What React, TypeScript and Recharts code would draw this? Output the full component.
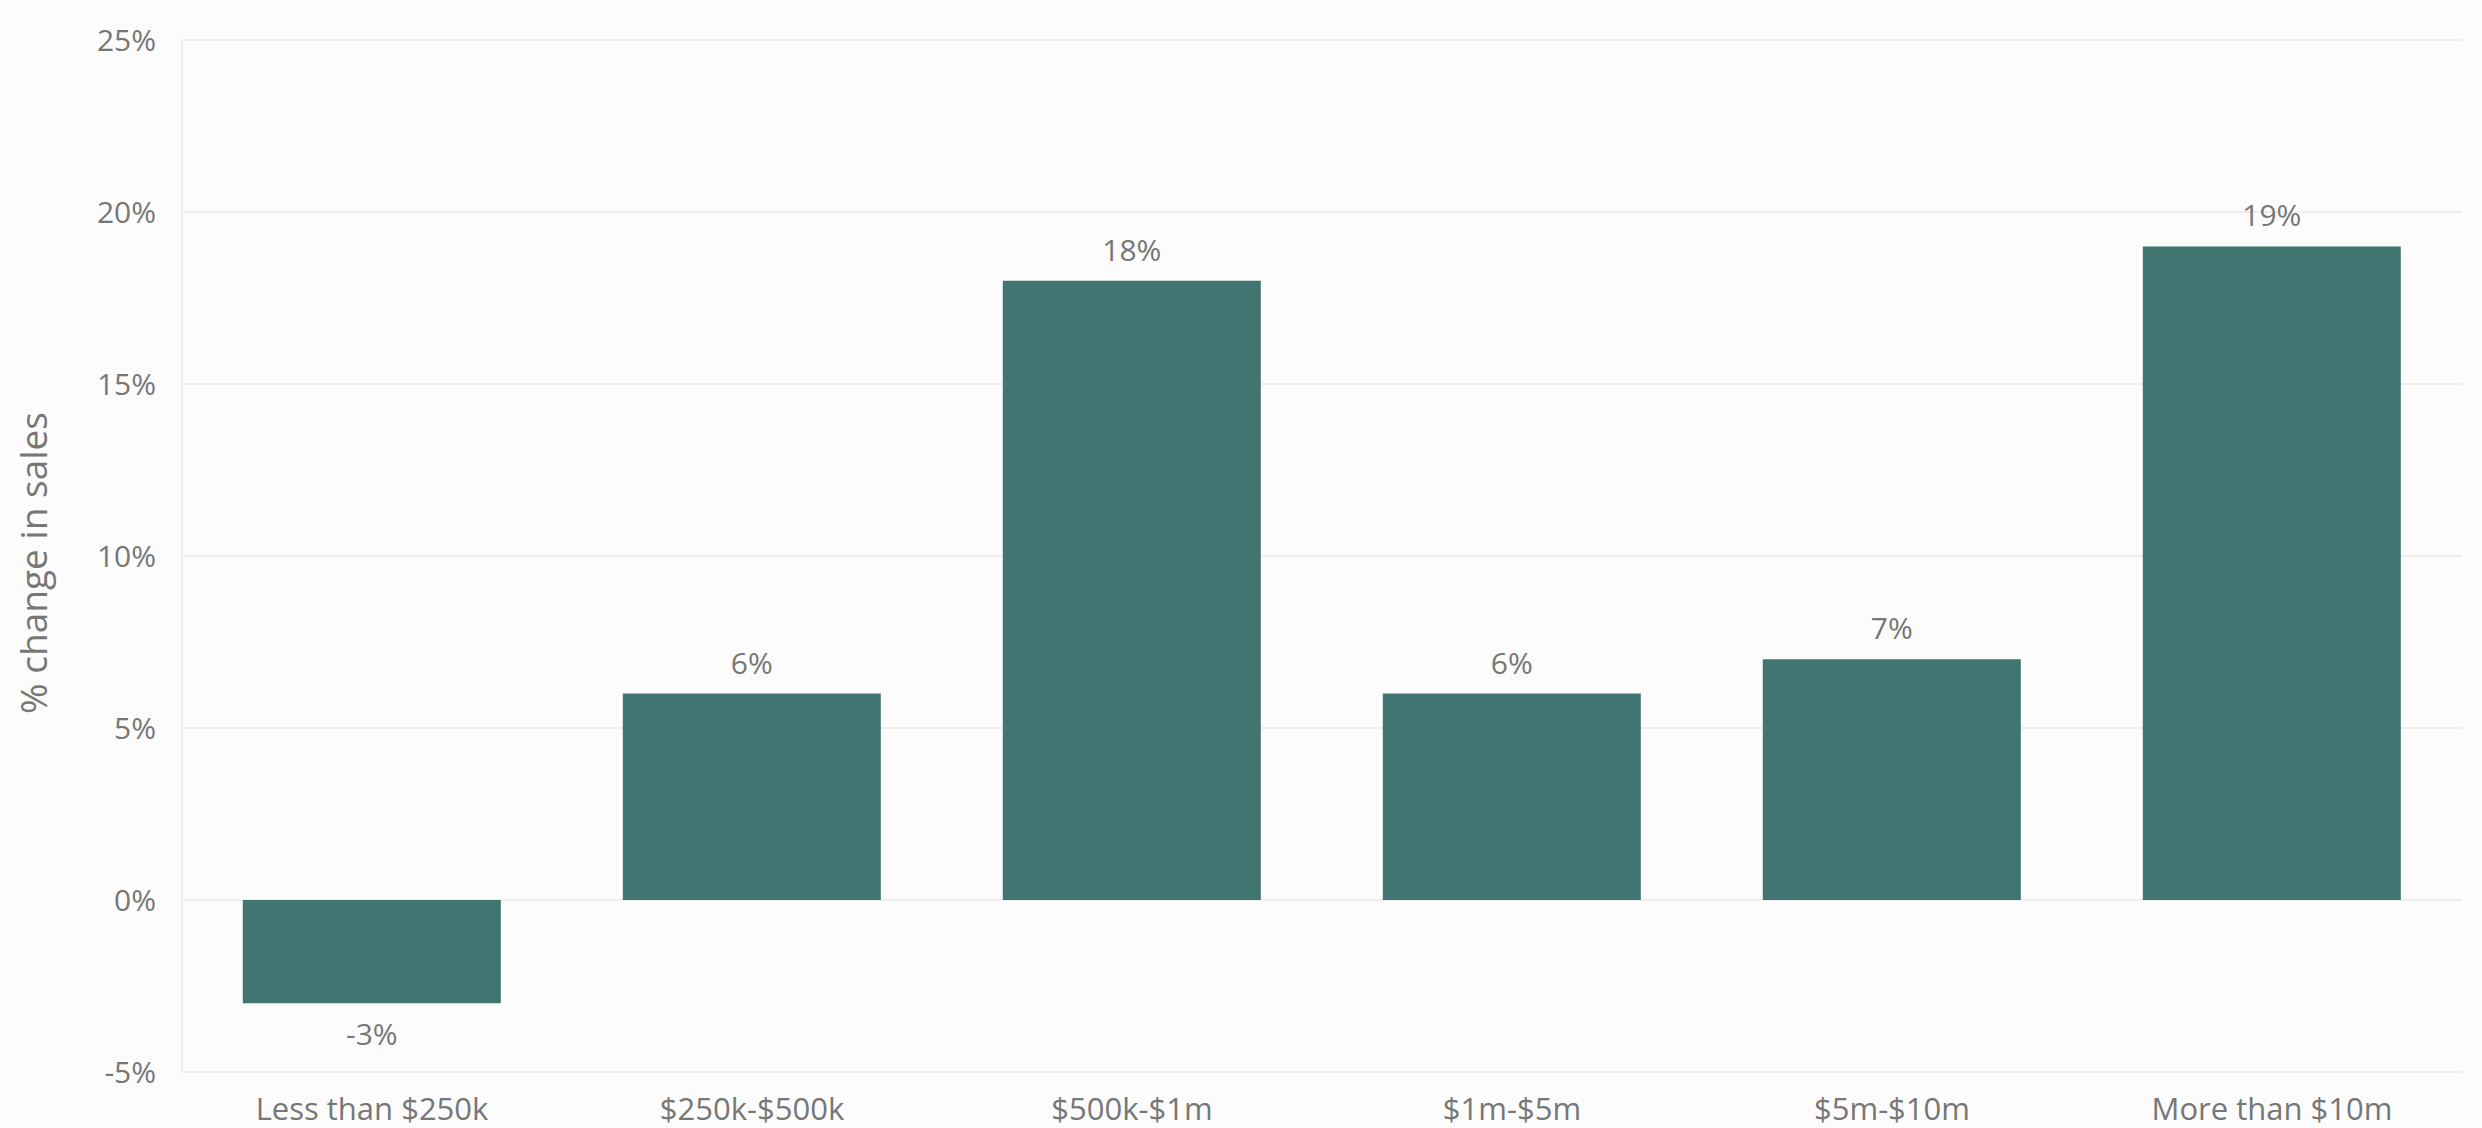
import React from 'react';
import {
  BarChart, Bar, XAxis, YAxis, CartesianGrid, LabelList, Label
} from 'recharts';

// Sales band categories and % change in sales
const categories = [
  'Less than $250k',
  '$250k-$500k',
  '$500k-$1m',
  '$1m-$5m',
  '$5m-$10m',
  'More than $10m',
];
const changePct = [-3, 6, 18, 6, 7, 19];
const yTicks = [-5, 0, 5, 10, 15, 20, 25];

const chartData = categories.map((name, i) => ({ name, change: changePct[i] }));

const textColor = '#777777';
const fontFamily = '"Open Sans", "Noto Sans", sans-serif';

export default function App() {
  return (
    <div style={{ position: 'absolute', left: 0, top: 0, width: 2482, height: 1128, background: '#fcfcfc' }}>
      <BarChart
        width={2482}
        height={1128}
        data={chartData}
        margin={{ top: 40, right: 20, left: 0, bottom: 0 }}
        barCategoryGap="16%"
        style={{ fontFamily }}
      >
        <CartesianGrid vertical={false} stroke="#eeeeee" strokeWidth={2} />
        <XAxis
          dataKey="name"
          height={56}
          axisLine={{ stroke: '#eeeeee', strokeWidth: 2 }}
          tickLine={false}
          tickSize={0}
          tickMargin={26}
          interval={0}
          tick={{ fontSize: 31, fill: textColor, fontFamily }}
        />
        <YAxis
          width={182}
          domain={[-5, 25]}
          ticks={yTicks}
          allowDataOverflow
          axisLine={{ stroke: '#eeeeee', strokeWidth: 2 }}
          tickLine={false}
          tickSize={0}
          tickMargin={26}
          tickFormatter={(v: number) => `${v}%`}
          tick={{ fontSize: 30, fill: textColor, fontFamily }}
        >
          <Label
            value="% change in sales"
            angle={-90}
            position="insideLeft"
            offset={34}
            dy={7}
            style={{ textAnchor: 'middle', fontSize: 37, fill: textColor, fontFamily }}
          />
        </YAxis>
        <Bar dataKey="change" fill="#417571" isAnimationActive={false}>
          <LabelList
            dataKey="change"
            position="top"
            offset={20}
            formatter={(v: any) => `${v}%`}
            style={{ fontSize: 30, fill: textColor, fontFamily }}
          />
        </Bar>
      </BarChart>
    </div>
  );
}
